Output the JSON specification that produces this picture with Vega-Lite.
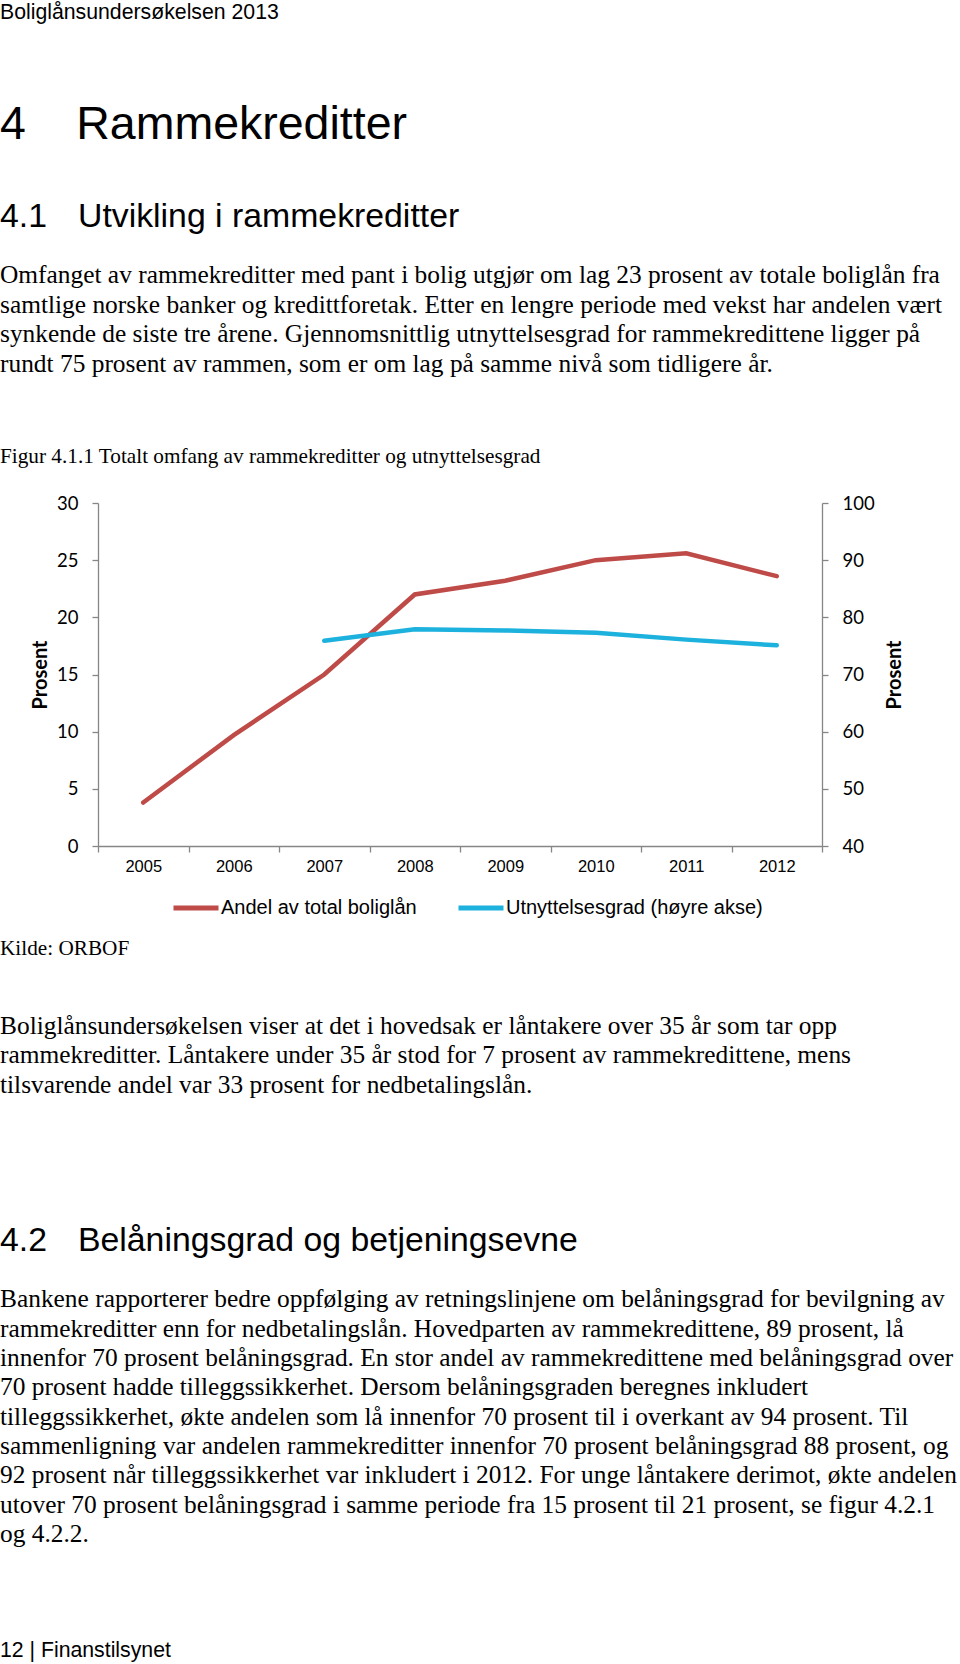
{
  "$schema": "https://vega.github.io/schema/vega-lite/v6.json",
  "background": "white",
  "padding": 0,
  "spacing": 6,
  "config": {"view": {"stroke": null}},
  "vconcat": [
    {
      "width": 940,
      "height": 488,
      "data": {"values": [
        {"kind": "header", "line": 0.15, "text": "Boliglånsundersøkelsen 2013"},
        {"kind": "h1", "line": 3.93, "text": "4\u2003\u200ARammekreditter"},
        {"kind": "h2", "line": 7.05, "text": "4.1\u2002\u2004\u200AUtvikling i rammekreditter"},
        {"kind": "body", "line": 9, "text": "Omfanget av rammekreditter med pant i bolig utgjør om lag 23 prosent av totale boliglån fra"},
        {"kind": "body", "line": 10, "text": "samtlige norske banker og kredittforetak. Etter en lengre periode med vekst har andelen vært"},
        {"kind": "body", "line": 11, "text": "synkende de siste tre årene. Gjennomsnittlig utnyttelsesgrad for rammekredittene ligger på"},
        {"kind": "body", "line": 12, "text": "rundt 75 prosent av rammen, som er om lag på samme nivå som tidligere år."},
        {"kind": "caption", "line": 15.15, "text": "Figur 4.1.1 Totalt omfang av rammekreditter og utnyttelsesgrad"}
      ]},
      "encoding": {
        "x": {"datum": 0, "type": "quantitative", "scale": {"domain": [0, 1]}, "axis": null},
        "y": {"field": "line", "type": "quantitative", "scale": {"domain": [-0.3, 16.2], "reverse": true, "nice": false, "zero": false}, "axis": null},
        "text": {"field": "text", "type": "nominal"}
      },
      "layer": [
        {"transform": [{"filter": "datum.kind === 'header'"}], "mark": {"type": "text", "align": "left", "baseline": "middle", "font": "Liberation Sans", "fontSize": 21.25, "color": "#000"}},
        {"transform": [{"filter": "datum.kind === 'h1'"}], "mark": {"type": "text", "align": "left", "baseline": "middle", "font": "Liberation Sans", "fontSize": 46.5, "color": "#000"}},
        {"transform": [{"filter": "datum.kind === 'h2'"}], "mark": {"type": "text", "align": "left", "baseline": "middle", "font": "Liberation Sans", "fontSize": 33.8, "color": "#000"}},
        {"transform": [{"filter": "datum.kind === 'body'"}], "mark": {"type": "text", "align": "left", "baseline": "middle", "font": "Liberation Serif", "fontSize": 25.4, "color": "#000"}},
        {"transform": [{"filter": "datum.kind === 'caption'"}], "mark": {"type": "text", "align": "left", "baseline": "middle", "font": "Liberation Serif", "fontSize": 21.25, "color": "#000"}}
      ]
    },
    {
      "spacing": 0,
      "hconcat": [
        {"width": 29.5, "height": 413, "data": {"values": []}, "mark": "point"},
        {
          "width": 724,
          "height": 343,
          "data": {"values": [
            {"year": "2005", "series": "Andel av total boliglån", "value": 3.8},
            {"year": "2006", "series": "Andel av total boliglån", "value": 9.7},
            {"year": "2007", "series": "Andel av total boliglån", "value": 15.0},
            {"year": "2008", "series": "Andel av total boliglån", "value": 22.0},
            {"year": "2009", "series": "Andel av total boliglån", "value": 23.2},
            {"year": "2010", "series": "Andel av total boliglån", "value": 25.0},
            {"year": "2011", "series": "Andel av total boliglån", "value": 25.6},
            {"year": "2012", "series": "Andel av total boliglån", "value": 23.6},
            {"year": "2007", "series": "Utnyttelsesgrad (høyre akse)", "value": 75.9},
            {"year": "2008", "series": "Utnyttelsesgrad (høyre akse)", "value": 77.9},
            {"year": "2009", "series": "Utnyttelsesgrad (høyre akse)", "value": 77.7},
            {"year": "2010", "series": "Utnyttelsesgrad (høyre akse)", "value": 77.3},
            {"year": "2011", "series": "Utnyttelsesgrad (høyre akse)", "value": 76.1},
            {"year": "2012", "series": "Utnyttelsesgrad (høyre akse)", "value": 75.1}
          ]},
          "encoding": {
            "x": {
              "field": "year", "type": "ordinal",
              "scale": {"type": "band", "paddingInner": 0, "paddingOuter": 0},
              "axis": {"title": null, "tickBand": "extent", "labelAngle": 0, "labelFont": "Liberation Sans", "labelFontSize": 16.5, "labelColor": "#000", "labelPadding": 6, "tickSize": 6, "domainColor": "#868686", "tickColor": "#868686", "domainWidth": 1.3, "tickWidth": 1.3}
            },
            "color": {
              "field": "series", "type": "nominal",
              "scale": {"domain": ["Andel av total boliglån", "Utnyttelsesgrad (høyre akse)"], "range": ["#BE4B48", "#1DB1DE"]},
              "legend": {"title": null, "orient": "none", "legendX": 171, "legendY": 883, "direction": "horizontal", "symbolType": "stroke", "symbolStrokeWidth": 5, "symbolSize": 2025, "labelFont": "Liberation Sans", "labelFontSize": 20, "labelColor": "#000", "labelLimit": 400, "labelOffset": 0, "columnPadding": 31, "padding": 0}
            }
          },
          "layer": [
            {
              "transform": [{"filter": "datum.series === 'Andel av total boliglån'"}],
              "mark": {"type": "line", "strokeWidth": 4.5, "strokeCap": "round"},
              "encoding": {
                "y": {"field": "value", "type": "quantitative", "scale": {"domain": [0, 30]},
                  "axis": {"orient": "left", "values": [0, 5, 10, 15, 20, 25, 30], "grid": false, "title": "Prosent", "titleFont": "Lato", "titleFontWeight": "bold", "titleFontSize": 20, "titleColor": "#000", "titlePadding": 6, "labelFont": "Lato", "labelFontSize": 18.5, "labelColor": "#000", "labelPadding": 14, "tickSize": 6, "domainColor": "#868686", "tickColor": "#868686", "domainWidth": 1.3, "tickWidth": 1.3}}
              }
            },
            {
              "transform": [{"filter": "datum.series === 'Utnyttelsesgrad (høyre akse)'"}],
              "mark": {"type": "line", "strokeWidth": 4.5, "strokeCap": "round"},
              "encoding": {
                "y": {"field": "value", "type": "quantitative", "scale": {"domain": [40, 100]},
                  "axis": {"orient": "right", "values": [40, 50, 60, 70, 80, 90, 100], "grid": false, "title": "Prosent", "titleAngle": 270, "titleBaseline": "top", "titleFont": "Lato", "titleFontWeight": "bold", "titleFontSize": 20, "titleColor": "#000", "titlePadding": 10, "labelFont": "Lato", "labelFontSize": 18.5, "labelColor": "#000", "labelPadding": 14, "tickSize": 6, "domainColor": "#868686", "tickColor": "#868686", "domainWidth": 1.3, "tickWidth": 1.3}}
              }
            }
          ],
          "resolve": {"scale": {"y": "independent"}}
        }
      ]
    },
    {
      "width": 940,
      "height": 741,
      "data": {"values": [
        {"kind": "caption", "line": 0.93, "text": "Kilde: ORBOF"},
        {"kind": "body", "line": 3.54, "text": "Boliglånsundersøkelsen viser at det i hovedsak er låntakere over 35 år som tar opp"},
        {"kind": "body", "line": 4.54, "text": "rammekreditter. Låntakere under 35 år stod for 7 prosent av rammekredittene, mens"},
        {"kind": "body", "line": 5.54, "text": "tilsvarende andel var 33 prosent for nedbetalingslån."},
        {"kind": "h2", "line": 10.87, "text": "4.2\u2002\u2004\u200ABelåningsgrad og betjeningsevne"},
        {"kind": "body", "line": 12.86, "text": "Bankene rapporterer bedre oppfølging av retningslinjene om belåningsgrad for bevilgning av"},
        {"kind": "body", "line": 13.86, "text": "rammekreditter enn for nedbetalingslån. Hovedparten av rammekredittene, 89 prosent, lå"},
        {"kind": "body", "line": 14.86, "text": "innenfor 70 prosent belåningsgrad. En stor andel av rammekredittene med belåningsgrad over"},
        {"kind": "body", "line": 15.86, "text": "70 prosent hadde tilleggssikkerhet. Dersom belåningsgraden beregnes inkludert"},
        {"kind": "body", "line": 16.86, "text": "tilleggssikkerhet, økte andelen som lå innenfor 70 prosent til i overkant av 94 prosent. Til"},
        {"kind": "body", "line": 17.86, "text": "sammenligning var andelen rammekreditter innenfor 70 prosent belåningsgrad 88 prosent, og"},
        {"kind": "body", "line": 18.86, "text": "92 prosent når tilleggssikkerhet var inkludert i 2012. For unge låntakere derimot, økte andelen"},
        {"kind": "body", "line": 19.86, "text": "utover 70 prosent belåningsgrad i samme periode fra 15 prosent til 21 prosent, se figur 4.2.1"},
        {"kind": "body", "line": 20.86, "text": "og 4.2.2."},
        {"kind": "footer", "line": 24.84, "text": "12 | Finanstilsynet"}
      ]},
      "encoding": {
        "x": {"datum": 0, "type": "quantitative", "scale": {"domain": [0, 1]}, "axis": null},
        "y": {"field": "line", "type": "quantitative", "scale": {"domain": [0, 25.25], "reverse": true, "nice": false, "zero": false}, "axis": null},
        "text": {"field": "text", "type": "nominal"}
      },
      "layer": [
        {"transform": [{"filter": "datum.kind === 'caption'"}], "mark": {"type": "text", "align": "left", "baseline": "middle", "font": "Liberation Serif", "fontSize": 21.25, "color": "#000"}},
        {"transform": [{"filter": "datum.kind === 'body'"}], "mark": {"type": "text", "align": "left", "baseline": "middle", "font": "Liberation Serif", "fontSize": 25.4, "color": "#000"}},
        {"transform": [{"filter": "datum.kind === 'h2'"}], "mark": {"type": "text", "align": "left", "baseline": "middle", "font": "Liberation Sans", "fontSize": 33.8, "color": "#000"}},
        {"transform": [{"filter": "datum.kind === 'footer'"}], "mark": {"type": "text", "align": "left", "baseline": "middle", "font": "Liberation Sans", "fontSize": 21.25, "color": "#000"}}
      ]
    }
  ]
}
